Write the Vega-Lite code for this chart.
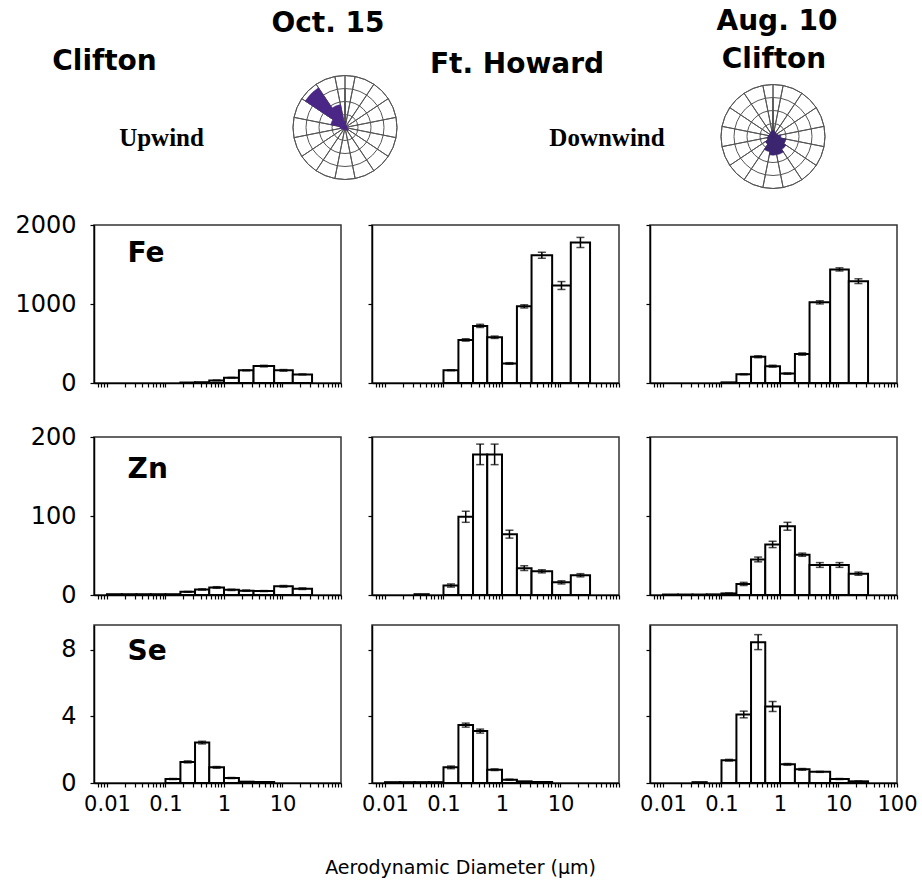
{
  "$schema": "https://vega.github.io/schema/vega-lite/v6.json",
  "padding": {"left": 3, "top": 7, "right": 5, "bottom": 6},
  "spacing": 21,
  "title": {"text": "Aerodynamic Diameter (µm)", "orient": "bottom", "anchor": "middle", "offset": 44, "font": "DejaVu Sans", "fontSize": 19, "fontWeight": "normal", "color": "black"},
  "datasets": {
    "stages": [
      {"stage": 1, "lo": 0.01, "hi": 0.018},
      {"stage": 2, "lo": 0.018, "hi": 0.032},
      {"stage": 3, "lo": 0.032, "hi": 0.056},
      {"stage": 4, "lo": 0.056, "hi": 0.1},
      {"stage": 5, "lo": 0.1, "hi": 0.18},
      {"stage": 6, "lo": 0.18, "hi": 0.32},
      {"stage": 7, "lo": 0.32, "hi": 0.56},
      {"stage": 8, "lo": 0.56, "hi": 1.0},
      {"stage": 9, "lo": 1.0, "hi": 1.8},
      {"stage": 10, "lo": 1.8, "hi": 3.2},
      {"stage": 11, "lo": 3.2, "hi": 7.2},
      {"stage": 12, "lo": 7.2, "hi": 15},
      {"stage": 13, "lo": 15, "hi": 32}
    ],
    "conc": [
      {"site": "Clifton-Oct15", "el": "Fe", "stage": 6, "v": 6, "e": 0},
      {"site": "Clifton-Oct15", "el": "Fe", "stage": 7, "v": 10, "e": 0},
      {"site": "Clifton-Oct15", "el": "Fe", "stage": 8, "v": 33, "e": 3},
      {"site": "Clifton-Oct15", "el": "Fe", "stage": 9, "v": 67, "e": 4},
      {"site": "Clifton-Oct15", "el": "Fe", "stage": 10, "v": 160, "e": 6},
      {"site": "Clifton-Oct15", "el": "Fe", "stage": 11, "v": 214, "e": 10},
      {"site": "Clifton-Oct15", "el": "Fe", "stage": 12, "v": 160, "e": 10},
      {"site": "Clifton-Oct15", "el": "Fe", "stage": 13, "v": 109, "e": 6},
      {"site": "FtHoward-Oct15", "el": "Fe", "stage": 5, "v": 162, "e": 6},
      {"site": "FtHoward-Oct15", "el": "Fe", "stage": 6, "v": 545, "e": 15},
      {"site": "FtHoward-Oct15", "el": "Fe", "stage": 7, "v": 723, "e": 20},
      {"site": "FtHoward-Oct15", "el": "Fe", "stage": 8, "v": 579, "e": 15},
      {"site": "FtHoward-Oct15", "el": "Fe", "stage": 9, "v": 247, "e": 10},
      {"site": "FtHoward-Oct15", "el": "Fe", "stage": 10, "v": 970, "e": 20},
      {"site": "FtHoward-Oct15", "el": "Fe", "stage": 11, "v": 1617, "e": 38},
      {"site": "FtHoward-Oct15", "el": "Fe", "stage": 12, "v": 1234, "e": 50},
      {"site": "FtHoward-Oct15", "el": "Fe", "stage": 13, "v": 1779, "e": 64},
      {"site": "Clifton-Aug10", "el": "Fe", "stage": 5, "v": 8, "e": 0},
      {"site": "Clifton-Aug10", "el": "Fe", "stage": 6, "v": 110, "e": 6},
      {"site": "Clifton-Aug10", "el": "Fe", "stage": 7, "v": 332, "e": 12},
      {"site": "Clifton-Aug10", "el": "Fe", "stage": 8, "v": 213, "e": 12},
      {"site": "Clifton-Aug10", "el": "Fe", "stage": 9, "v": 119, "e": 8},
      {"site": "Clifton-Aug10", "el": "Fe", "stage": 10, "v": 366, "e": 15},
      {"site": "Clifton-Aug10", "el": "Fe", "stage": 11, "v": 1021, "e": 20},
      {"site": "Clifton-Aug10", "el": "Fe", "stage": 12, "v": 1438, "e": 20},
      {"site": "Clifton-Aug10", "el": "Fe", "stage": 13, "v": 1289, "e": 30},
      {"site": "Clifton-Oct15", "el": "Zn", "stage": 1, "v": 1, "e": 0},
      {"site": "Clifton-Oct15", "el": "Zn", "stage": 2, "v": 1, "e": 0},
      {"site": "Clifton-Oct15", "el": "Zn", "stage": 3, "v": 1, "e": 0},
      {"site": "Clifton-Oct15", "el": "Zn", "stage": 4, "v": 1, "e": 0},
      {"site": "Clifton-Oct15", "el": "Zn", "stage": 5, "v": 1, "e": 0},
      {"site": "Clifton-Oct15", "el": "Zn", "stage": 6, "v": 4, "e": 0.5},
      {"site": "Clifton-Oct15", "el": "Zn", "stage": 7, "v": 7, "e": 0.8},
      {"site": "Clifton-Oct15", "el": "Zn", "stage": 8, "v": 9.5, "e": 1},
      {"site": "Clifton-Oct15", "el": "Zn", "stage": 9, "v": 6.5, "e": 0.8},
      {"site": "Clifton-Oct15", "el": "Zn", "stage": 10, "v": 5.5, "e": 0.8},
      {"site": "Clifton-Oct15", "el": "Zn", "stage": 11, "v": 5, "e": 0.6},
      {"site": "Clifton-Oct15", "el": "Zn", "stage": 12, "v": 11, "e": 1},
      {"site": "Clifton-Oct15", "el": "Zn", "stage": 13, "v": 8, "e": 1},
      {"site": "FtHoward-Oct15", "el": "Zn", "stage": 3, "v": 1, "e": 0},
      {"site": "FtHoward-Oct15", "el": "Zn", "stage": 5, "v": 12, "e": 2},
      {"site": "FtHoward-Oct15", "el": "Zn", "stage": 6, "v": 99, "e": 7},
      {"site": "FtHoward-Oct15", "el": "Zn", "stage": 7, "v": 178, "e": 13},
      {"site": "FtHoward-Oct15", "el": "Zn", "stage": 8, "v": 178, "e": 13},
      {"site": "FtHoward-Oct15", "el": "Zn", "stage": 9, "v": 77, "e": 5},
      {"site": "FtHoward-Oct15", "el": "Zn", "stage": 10, "v": 34, "e": 3},
      {"site": "FtHoward-Oct15", "el": "Zn", "stage": 11, "v": 30, "e": 2},
      {"site": "FtHoward-Oct15", "el": "Zn", "stage": 12, "v": 16, "e": 2},
      {"site": "FtHoward-Oct15", "el": "Zn", "stage": 13, "v": 25, "e": 2},
      {"site": "Clifton-Aug10", "el": "Zn", "stage": 1, "v": 0.6, "e": 0},
      {"site": "Clifton-Aug10", "el": "Zn", "stage": 2, "v": 0.6, "e": 0},
      {"site": "Clifton-Aug10", "el": "Zn", "stage": 3, "v": 0.6, "e": 0},
      {"site": "Clifton-Aug10", "el": "Zn", "stage": 4, "v": 0.8, "e": 0},
      {"site": "Clifton-Aug10", "el": "Zn", "stage": 5, "v": 2, "e": 0.5},
      {"site": "Clifton-Aug10", "el": "Zn", "stage": 6, "v": 14, "e": 2},
      {"site": "Clifton-Aug10", "el": "Zn", "stage": 7, "v": 45, "e": 3},
      {"site": "Clifton-Aug10", "el": "Zn", "stage": 8, "v": 64, "e": 4},
      {"site": "Clifton-Aug10", "el": "Zn", "stage": 9, "v": 87, "e": 5},
      {"site": "Clifton-Aug10", "el": "Zn", "stage": 10, "v": 51, "e": 2},
      {"site": "Clifton-Aug10", "el": "Zn", "stage": 11, "v": 38, "e": 3},
      {"site": "Clifton-Aug10", "el": "Zn", "stage": 12, "v": 38, "e": 3},
      {"site": "Clifton-Aug10", "el": "Zn", "stage": 13, "v": 27, "e": 2},
      {"site": "Clifton-Oct15", "el": "Se", "stage": 5, "v": 0.24, "e": 0.03},
      {"site": "Clifton-Oct15", "el": "Se", "stage": 6, "v": 1.27, "e": 0.06},
      {"site": "Clifton-Oct15", "el": "Se", "stage": 7, "v": 2.43, "e": 0.08},
      {"site": "Clifton-Oct15", "el": "Se", "stage": 8, "v": 0.94, "e": 0.05},
      {"site": "Clifton-Oct15", "el": "Se", "stage": 9, "v": 0.3, "e": 0.03},
      {"site": "Clifton-Oct15", "el": "Se", "stage": 10, "v": 0.08, "e": 0},
      {"site": "Clifton-Oct15", "el": "Se", "stage": 11, "v": 0.06, "e": 0},
      {"site": "FtHoward-Oct15", "el": "Se", "stage": 1, "v": 0.05, "e": 0},
      {"site": "FtHoward-Oct15", "el": "Se", "stage": 2, "v": 0.05, "e": 0},
      {"site": "FtHoward-Oct15", "el": "Se", "stage": 3, "v": 0.05, "e": 0},
      {"site": "FtHoward-Oct15", "el": "Se", "stage": 4, "v": 0.05, "e": 0},
      {"site": "FtHoward-Oct15", "el": "Se", "stage": 5, "v": 0.94, "e": 0.08},
      {"site": "FtHoward-Oct15", "el": "Se", "stage": 6, "v": 3.48, "e": 0.12},
      {"site": "FtHoward-Oct15", "el": "Se", "stage": 7, "v": 3.12, "e": 0.12},
      {"site": "FtHoward-Oct15", "el": "Se", "stage": 8, "v": 0.8, "e": 0.05},
      {"site": "FtHoward-Oct15", "el": "Se", "stage": 9, "v": 0.2, "e": 0.03},
      {"site": "FtHoward-Oct15", "el": "Se", "stage": 10, "v": 0.1, "e": 0},
      {"site": "FtHoward-Oct15", "el": "Se", "stage": 11, "v": 0.06, "e": 0},
      {"site": "Clifton-Aug10", "el": "Se", "stage": 3, "v": 0.05, "e": 0},
      {"site": "Clifton-Aug10", "el": "Se", "stage": 5, "v": 1.37, "e": 0.05},
      {"site": "Clifton-Aug10", "el": "Se", "stage": 6, "v": 4.12, "e": 0.2},
      {"site": "Clifton-Aug10", "el": "Se", "stage": 7, "v": 8.47, "e": 0.45},
      {"site": "Clifton-Aug10", "el": "Se", "stage": 8, "v": 4.6, "e": 0.3},
      {"site": "Clifton-Aug10", "el": "Se", "stage": 9, "v": 1.12, "e": 0.05},
      {"site": "Clifton-Aug10", "el": "Se", "stage": 10, "v": 0.82, "e": 0.05},
      {"site": "Clifton-Aug10", "el": "Se", "stage": 11, "v": 0.67, "e": 0.03},
      {"site": "Clifton-Aug10", "el": "Se", "stage": 12, "v": 0.24, "e": 0.03},
      {"site": "Clifton-Aug10", "el": "Se", "stage": 13, "v": 0.1, "e": 0.02}
    ],
    "headings": [
      {"slot": "site1", "text": "Clifton"},
      {"slot": "wind1", "text": "Upwind"},
      {"slot": "date1", "text": "Oct. 15"},
      {"slot": "site2", "text": "Ft. Howard"},
      {"slot": "wind2", "text": "Downwind"},
      {"slot": "date3", "text": "Aug. 10"},
      {"slot": "site3", "text": "Clifton"}
    ],
    "rings": [{"ring": 0.25}, {"ring": 0.5}, {"ring": 0.75}, {"ring": 1.0}],
    "winds": [
      {"day": "Oct. 15", "dir": 0, "r": 0.12},
      {"day": "Oct. 15", "dir": 22.5, "r": 0.05},
      {"day": "Oct. 15", "dir": 45, "r": 0.04},
      {"day": "Oct. 15", "dir": 67.5, "r": 0.04},
      {"day": "Oct. 15", "dir": 90, "r": 0.04},
      {"day": "Oct. 15", "dir": 112.5, "r": 0.05},
      {"day": "Oct. 15", "dir": 135, "r": 0.08},
      {"day": "Oct. 15", "dir": 157.5, "r": 0.05},
      {"day": "Oct. 15", "dir": 180, "r": 0.04},
      {"day": "Oct. 15", "dir": 202.5, "r": 0.04},
      {"day": "Oct. 15", "dir": 225, "r": 0.05},
      {"day": "Oct. 15", "dir": 247.5, "r": 0.06},
      {"day": "Oct. 15", "dir": 270, "r": 0.1},
      {"day": "Oct. 15", "dir": 292.5, "r": 0.28},
      {"day": "Oct. 15", "dir": 315, "r": 0.92},
      {"day": "Oct. 15", "dir": 337.5, "r": 0.45},
      {"day": "Aug. 10", "dir": 0, "r": 0.12},
      {"day": "Aug. 10", "dir": 22.5, "r": 0.1},
      {"day": "Aug. 10", "dir": 45, "r": 0.08},
      {"day": "Aug. 10", "dir": 67.5, "r": 0.1},
      {"day": "Aug. 10", "dir": 90, "r": 0.15},
      {"day": "Aug. 10", "dir": 112.5, "r": 0.25},
      {"day": "Aug. 10", "dir": 135, "r": 0.3},
      {"day": "Aug. 10", "dir": 157.5, "r": 0.36},
      {"day": "Aug. 10", "dir": 180, "r": 0.36},
      {"day": "Aug. 10", "dir": 202.5, "r": 0.3},
      {"day": "Aug. 10", "dir": 225, "r": 0.18},
      {"day": "Aug. 10", "dir": 247.5, "r": 0.12},
      {"day": "Aug. 10", "dir": 270, "r": 0.1},
      {"day": "Aug. 10", "dir": 292.5, "r": 0.08},
      {"day": "Aug. 10", "dir": 315, "r": 0.08},
      {"day": "Aug. 10", "dir": 337.5, "r": 0.1}
    ]
  },
  "vconcat": [
    {
      "hconcat": [
        {
          "width": 177, "height": 71, "view": {"stroke": null},
          "data": {"name": "headings"},
          "layer": [
            {"transform": [{"filter": "datum.slot === 'site1'"}], "mark": {"type": "text", "font": "DejaVu Sans", "fontSize": 28, "fontWeight": "bold", "dx": -78, "dy": -75}, "encoding": {"text": {"field": "text"}}},
            {"transform": [{"filter": "datum.slot === 'wind1'"}], "mark": {"type": "text", "font": "Liberation Serif", "fontSize": 25, "fontWeight": "bold", "dx": -21, "dy": 1}, "encoding": {"text": {"field": "text"}}}
          ]
        },
        {
          "width": 148, "height": 53, "view": {"stroke": null},
          "layer": [
            {"data": {"name": "winds"}, "transform": [{"filter": "datum.day === 'Oct. 15'"}, {"calculate": "datum.dir - 11.25", "as": "a0"}, {"calculate": "datum.dir + 11.25", "as": "a1"}],
             "mark": {"type": "arc", "radius": 52, "fill": "transparent", "stroke": "#555", "strokeWidth": 1},
             "encoding": {"theta": {"field": "a0", "type": "quantitative", "stack": null, "scale": {"type": "linear", "domain": [0, 360], "range": [0, 6.283185]}}, "theta2": {"field": "a1"}}},
            {"data": {"name": "rings"}, "mark": {"type": "arc", "theta": 0, "theta2": 6.283185, "fill": "transparent", "stroke": "#555", "strokeWidth": 1},
             "encoding": {"radius": {"field": "ring", "type": "quantitative", "stack": null, "scale": {"type": "linear", "domain": [0, 1], "range": [0, 52]}}}},
            {"data": {"name": "winds"}, "transform": [{"filter": "datum.day === 'Oct. 15'"}, {"calculate": "datum.dir - 11.25", "as": "a0"}, {"calculate": "datum.dir + 11.25", "as": "a1"}],
             "mark": {"type": "arc", "fill": "#4a2787", "stroke": "#4a2787", "strokeWidth": 0.5},
             "encoding": {"theta": {"field": "a0", "type": "quantitative", "stack": null, "scale": {"type": "linear", "domain": [0, 360], "range": [0, 6.283185]}}, "theta2": {"field": "a1"}, "radius": {"field": "r", "type": "quantitative", "stack": null, "scale": {"type": "linear", "domain": [0, 1], "range": [0, 52]}}}},
            {"data": {"name": "headings"}, "transform": [{"filter": "datum.slot === 'date1'"}], "mark": {"type": "text", "font": "DejaVu Sans", "fontSize": 28, "fontWeight": "bold", "dx": -17, "dy": -104}, "encoding": {"text": {"field": "text"}}}
          ]
        },
        {
          "width": 280, "height": 71, "view": {"stroke": null},
          "data": {"name": "headings"},
          "layer": [
            {"transform": [{"filter": "datum.slot === 'site2'"}], "mark": {"type": "text", "font": "DejaVu Sans", "fontSize": 28, "fontWeight": "bold", "dx": -42, "dy": -72}, "encoding": {"text": {"field": "text"}}},
            {"transform": [{"filter": "datum.slot === 'wind2'"}], "mark": {"type": "text", "font": "Liberation Serif", "fontSize": 25, "fontWeight": "bold", "dx": 48, "dy": 1}, "encoding": {"text": {"field": "text"}}}
          ]
        },
        {
          "width": 148, "height": 71, "view": {"stroke": null},
          "layer": [
            {"data": {"name": "winds"}, "transform": [{"filter": "datum.day === 'Aug. 10'"}, {"calculate": "datum.dir - 11.25", "as": "a0"}, {"calculate": "datum.dir + 11.25", "as": "a1"}],
             "mark": {"type": "arc", "radius": 52, "fill": "transparent", "stroke": "#555", "strokeWidth": 1},
             "encoding": {"theta": {"field": "a0", "type": "quantitative", "stack": null, "scale": {"type": "linear", "domain": [0, 360], "range": [0, 6.283185]}}, "theta2": {"field": "a1"}}},
            {"data": {"name": "rings"}, "mark": {"type": "arc", "theta": 0, "theta2": 6.283185, "fill": "transparent", "stroke": "#555", "strokeWidth": 1},
             "encoding": {"radius": {"field": "ring", "type": "quantitative", "stack": null, "scale": {"type": "linear", "domain": [0, 1], "range": [0, 52]}}}},
            {"data": {"name": "winds"}, "transform": [{"filter": "datum.day === 'Aug. 10'"}, {"calculate": "datum.dir - 11.25", "as": "a0"}, {"calculate": "datum.dir + 11.25", "as": "a1"}],
             "mark": {"type": "arc", "fill": "#3b2470", "stroke": "#3b2470", "strokeWidth": 0.5},
             "encoding": {"theta": {"field": "a0", "type": "quantitative", "stack": null, "scale": {"type": "linear", "domain": [0, 360], "range": [0, 6.283185]}}, "theta2": {"field": "a1"}, "radius": {"field": "r", "type": "quantitative", "stack": null, "scale": {"type": "linear", "domain": [0, 1], "range": [0, 52]}}}},
            {"data": {"name": "headings"}, "transform": [{"filter": "datum.slot === 'date3'"}], "mark": {"type": "text", "font": "DejaVu Sans", "fontSize": 28, "fontWeight": "bold", "dx": 4, "dy": -115}, "encoding": {"text": {"field": "text"}}},
            {"data": {"name": "headings"}, "transform": [{"filter": "datum.slot === 'site3'"}], "mark": {"type": "text", "font": "DejaVu Sans", "fontSize": 28, "fontWeight": "bold", "dx": 1, "dy": -77}, "encoding": {"text": {"field": "text"}}}
          ]
        }
      ],
      "spacing": 0,
      "bounds": "flush"
    },
    {
      "vconcat": [
        {
          "hconcat": [
            {
              "width": 247, "height": 158,
              "data": {"name": "conc"},
              "transform": [
                {"filter": "datum.el === 'Fe' && datum.site === 'Clifton-Oct15'"},
                {"lookup": "stage", "from": {"data": {"name": "stages"}, "key": "stage", "fields": ["lo", "hi"]}},
                {"calculate": "sqrt(datum.lo * datum.hi)", "as": "mid"},
                {"calculate": "datum.v - datum.e", "as": "vlo"},
                {"calculate": "datum.v + datum.e", "as": "vhi"}
              ],
              "layer": [
                {"mark": {"type": "bar", "fill": "white", "stroke": "black", "strokeWidth": 2},
                 "encoding": {
                   "x": {"field": "lo", "type": "quantitative", "scale": {"type": "log", "domain": [0.006, 100], "nice": false}, "axis": {"title": null, "labels": false, "values": [0.007,0.008,0.009,0.01,0.02,0.03,0.04,0.05,0.06,0.07,0.08,0.09,0.1,0.2,0.3,0.4,0.5,0.6,0.7,0.8,0.9,1,2,3,4,5,6,7,8,9,10,20,30,40,50,60,70,80,90,100]}},
                   "x2": {"field": "hi"},
                   "y": {"field": "v", "type": "quantitative", "scale": {"domain": [0, 2000], "nice": false}, "axis": {"title": null, "format": "d", "values": [0, 1000, 2000], "minExtent": 90, "maxExtent": 90}},
                   "y2": {"datum": 0}
                 }},
                {"transform": [{"filter": "datum.e > 0"}],
                 "mark": {"type": "errorbar", "ticks": true, "size": 8, "thickness": 1.5, "color": "black"},
                 "encoding": {"x": {"field": "mid", "type": "quantitative", "title": null, "scale": {"type": "log", "domain": [0.006, 100], "nice": false}}, "y": {"field": "vlo", "type": "quantitative", "title": null}, "y2": {"field": "vhi"}}},
                {"data": {"values": [{"el": "Fe"}]}, "mark": {"type": "text", "align": "left", "font": "DejaVu Sans", "fontSize": 28, "fontWeight": "bold"},
                 "encoding": {"text": {"field": "el"}, "x": {"datum": 0.0225, "type": "quantitative"}, "y": {"datum": 1633, "type": "quantitative"}}}
              ]
            },
            {
              "width": 247, "height": 158,
              "data": {"name": "conc"},
              "transform": [
                {"filter": "datum.el === 'Fe' && datum.site === 'FtHoward-Oct15'"},
                {"lookup": "stage", "from": {"data": {"name": "stages"}, "key": "stage", "fields": ["lo", "hi"]}},
                {"calculate": "sqrt(datum.lo * datum.hi)", "as": "mid"},
                {"calculate": "datum.v - datum.e", "as": "vlo"},
                {"calculate": "datum.v + datum.e", "as": "vhi"}
              ],
              "layer": [
                {"mark": {"type": "bar", "fill": "white", "stroke": "black", "strokeWidth": 2},
                 "encoding": {
                   "x": {"field": "lo", "type": "quantitative", "scale": {"type": "log", "domain": [0.006, 100], "nice": false}, "axis": {"title": null, "labels": false, "values": [0.007,0.008,0.009,0.01,0.02,0.03,0.04,0.05,0.06,0.07,0.08,0.09,0.1,0.2,0.3,0.4,0.5,0.6,0.7,0.8,0.9,1,2,3,4,5,6,7,8,9,10,20,30,40,50,60,70,80,90,100]}},
                   "x2": {"field": "hi"},
                   "y": {"field": "v", "type": "quantitative", "scale": {"domain": [0, 2000], "nice": false}, "axis": {"title": null, "labels": false, "values": [0, 1000, 2000]}},
                   "y2": {"datum": 0}
                 }},
                {"transform": [{"filter": "datum.e > 0"}],
                 "mark": {"type": "errorbar", "ticks": true, "size": 8, "thickness": 1.5, "color": "black"},
                 "encoding": {"x": {"field": "mid", "type": "quantitative", "title": null, "scale": {"type": "log", "domain": [0.006, 100], "nice": false}}, "y": {"field": "vlo", "type": "quantitative", "title": null}, "y2": {"field": "vhi"}}}
              ]
            },
            {
              "width": 247, "height": 158,
              "data": {"name": "conc"},
              "transform": [
                {"filter": "datum.el === 'Fe' && datum.site === 'Clifton-Aug10'"},
                {"lookup": "stage", "from": {"data": {"name": "stages"}, "key": "stage", "fields": ["lo", "hi"]}},
                {"calculate": "sqrt(datum.lo * datum.hi)", "as": "mid"},
                {"calculate": "datum.v - datum.e", "as": "vlo"},
                {"calculate": "datum.v + datum.e", "as": "vhi"}
              ],
              "layer": [
                {"mark": {"type": "bar", "fill": "white", "stroke": "black", "strokeWidth": 2},
                 "encoding": {
                   "x": {"field": "lo", "type": "quantitative", "scale": {"type": "log", "domain": [0.006, 100], "nice": false}, "axis": {"title": null, "labels": false, "values": [0.007,0.008,0.009,0.01,0.02,0.03,0.04,0.05,0.06,0.07,0.08,0.09,0.1,0.2,0.3,0.4,0.5,0.6,0.7,0.8,0.9,1,2,3,4,5,6,7,8,9,10,20,30,40,50,60,70,80,90,100]}},
                   "x2": {"field": "hi"},
                   "y": {"field": "v", "type": "quantitative", "scale": {"domain": [0, 2000], "nice": false}, "axis": {"title": null, "labels": false, "values": [0, 1000, 2000]}},
                   "y2": {"datum": 0}
                 }},
                {"transform": [{"filter": "datum.e > 0"}],
                 "mark": {"type": "errorbar", "ticks": true, "size": 8, "thickness": 1.5, "color": "black"},
                 "encoding": {"x": {"field": "mid", "type": "quantitative", "title": null, "scale": {"type": "log", "domain": [0.006, 100], "nice": false}}, "y": {"field": "vlo", "type": "quantitative", "title": null}, "y2": {"field": "vhi"}}}
              ]
            }
          ],
          "spacing": 31,
          "bounds": "flush"
        },
        {
          "vconcat": [
            {
              "hconcat": [
                {
                  "width": 247, "height": 158,
                  "data": {"name": "conc"},
                  "transform": [
                    {"filter": "datum.el === 'Zn' && datum.site === 'Clifton-Oct15'"},
                    {"lookup": "stage", "from": {"data": {"name": "stages"}, "key": "stage", "fields": ["lo", "hi"]}},
                    {"calculate": "sqrt(datum.lo * datum.hi)", "as": "mid"},
                    {"calculate": "datum.v - datum.e", "as": "vlo"},
                    {"calculate": "datum.v + datum.e", "as": "vhi"}
                  ],
                  "layer": [
                    {"mark": {"type": "bar", "fill": "white", "stroke": "black", "strokeWidth": 2},
                     "encoding": {
                       "x": {"field": "lo", "type": "quantitative", "scale": {"type": "log", "domain": [0.006, 100], "nice": false}, "axis": {"title": null, "labels": false, "values": [0.007,0.008,0.009,0.01,0.02,0.03,0.04,0.05,0.06,0.07,0.08,0.09,0.1,0.2,0.3,0.4,0.5,0.6,0.7,0.8,0.9,1,2,3,4,5,6,7,8,9,10,20,30,40,50,60,70,80,90,100]}},
                       "x2": {"field": "hi"},
                       "y": {"field": "v", "type": "quantitative", "scale": {"domain": [0, 200], "nice": false}, "axis": {"title": null, "format": "d", "values": [0, 100, 200], "minExtent": 90, "maxExtent": 90}},
                       "y2": {"datum": 0}
                     }},
                    {"transform": [{"filter": "datum.e > 0"}],
                     "mark": {"type": "errorbar", "ticks": true, "size": 8, "thickness": 1.5, "color": "black"},
                     "encoding": {"x": {"field": "mid", "type": "quantitative", "title": null, "scale": {"type": "log", "domain": [0.006, 100], "nice": false}}, "y": {"field": "vlo", "type": "quantitative", "title": null}, "y2": {"field": "vhi"}}},
                    {"data": {"values": [{"el": "Zn"}]}, "mark": {"type": "text", "align": "left", "font": "DejaVu Sans", "fontSize": 28, "fontWeight": "bold"},
                     "encoding": {"text": {"field": "el"}, "x": {"datum": 0.0225, "type": "quantitative"}, "y": {"datum": 158, "type": "quantitative"}}}
                  ]
                },
                {
                  "width": 247, "height": 158,
                  "data": {"name": "conc"},
                  "transform": [
                    {"filter": "datum.el === 'Zn' && datum.site === 'FtHoward-Oct15'"},
                    {"lookup": "stage", "from": {"data": {"name": "stages"}, "key": "stage", "fields": ["lo", "hi"]}},
                    {"calculate": "sqrt(datum.lo * datum.hi)", "as": "mid"},
                    {"calculate": "datum.v - datum.e", "as": "vlo"},
                    {"calculate": "datum.v + datum.e", "as": "vhi"}
                  ],
                  "layer": [
                    {"mark": {"type": "bar", "fill": "white", "stroke": "black", "strokeWidth": 2},
                     "encoding": {
                       "x": {"field": "lo", "type": "quantitative", "scale": {"type": "log", "domain": [0.006, 100], "nice": false}, "axis": {"title": null, "labels": false, "values": [0.007,0.008,0.009,0.01,0.02,0.03,0.04,0.05,0.06,0.07,0.08,0.09,0.1,0.2,0.3,0.4,0.5,0.6,0.7,0.8,0.9,1,2,3,4,5,6,7,8,9,10,20,30,40,50,60,70,80,90,100]}},
                       "x2": {"field": "hi"},
                       "y": {"field": "v", "type": "quantitative", "scale": {"domain": [0, 200], "nice": false}, "axis": {"title": null, "labels": false, "values": [0, 100, 200]}},
                       "y2": {"datum": 0}
                     }},
                    {"transform": [{"filter": "datum.e > 0"}],
                     "mark": {"type": "errorbar", "ticks": true, "size": 8, "thickness": 1.5, "color": "black"},
                     "encoding": {"x": {"field": "mid", "type": "quantitative", "title": null, "scale": {"type": "log", "domain": [0.006, 100], "nice": false}}, "y": {"field": "vlo", "type": "quantitative", "title": null}, "y2": {"field": "vhi"}}}
                  ]
                },
                {
                  "width": 247, "height": 158,
                  "data": {"name": "conc"},
                  "transform": [
                    {"filter": "datum.el === 'Zn' && datum.site === 'Clifton-Aug10'"},
                    {"lookup": "stage", "from": {"data": {"name": "stages"}, "key": "stage", "fields": ["lo", "hi"]}},
                    {"calculate": "sqrt(datum.lo * datum.hi)", "as": "mid"},
                    {"calculate": "datum.v - datum.e", "as": "vlo"},
                    {"calculate": "datum.v + datum.e", "as": "vhi"}
                  ],
                  "layer": [
                    {"mark": {"type": "bar", "fill": "white", "stroke": "black", "strokeWidth": 2},
                     "encoding": {
                       "x": {"field": "lo", "type": "quantitative", "scale": {"type": "log", "domain": [0.006, 100], "nice": false}, "axis": {"title": null, "labels": false, "values": [0.007,0.008,0.009,0.01,0.02,0.03,0.04,0.05,0.06,0.07,0.08,0.09,0.1,0.2,0.3,0.4,0.5,0.6,0.7,0.8,0.9,1,2,3,4,5,6,7,8,9,10,20,30,40,50,60,70,80,90,100]}},
                       "x2": {"field": "hi"},
                       "y": {"field": "v", "type": "quantitative", "scale": {"domain": [0, 200], "nice": false}, "axis": {"title": null, "labels": false, "values": [0, 100, 200]}},
                       "y2": {"datum": 0}
                     }},
                    {"transform": [{"filter": "datum.e > 0"}],
                     "mark": {"type": "errorbar", "ticks": true, "size": 8, "thickness": 1.5, "color": "black"},
                     "encoding": {"x": {"field": "mid", "type": "quantitative", "title": null, "scale": {"type": "log", "domain": [0.006, 100], "nice": false}}, "y": {"field": "vlo", "type": "quantitative", "title": null}, "y2": {"field": "vhi"}}}
                  ]
                }
              ],
              "spacing": 31,
              "bounds": "flush"
            },
            {
              "hconcat": [
                {
                  "width": 247, "height": 158,
                  "data": {"name": "conc"},
                  "transform": [
                    {"filter": "datum.el === 'Se' && datum.site === 'Clifton-Oct15'"},
                    {"lookup": "stage", "from": {"data": {"name": "stages"}, "key": "stage", "fields": ["lo", "hi"]}},
                    {"calculate": "sqrt(datum.lo * datum.hi)", "as": "mid"},
                    {"calculate": "datum.v - datum.e", "as": "vlo"},
                    {"calculate": "datum.v + datum.e", "as": "vhi"}
                  ],
                  "layer": [
                    {"mark": {"type": "bar", "fill": "white", "stroke": "black", "strokeWidth": 2},
                     "encoding": {
                       "x": {"field": "lo", "type": "quantitative", "scale": {"type": "log", "domain": [0.006, 100], "nice": false}, "axis": {"title": null, "labelFlush": false, "labelOverlap": false, "labelExpr": "indexof([0.01, 0.1, 1, 10], datum.value) >= 0 ? '' + datum.value : ''", "values": [0.007,0.008,0.009,0.01,0.02,0.03,0.04,0.05,0.06,0.07,0.08,0.09,0.1,0.2,0.3,0.4,0.5,0.6,0.7,0.8,0.9,1,2,3,4,5,6,7,8,9,10,20,30,40,50,60,70,80,90,100]}},
                       "x2": {"field": "hi"},
                       "y": {"field": "v", "type": "quantitative", "scale": {"domain": [0, 9.5], "nice": false}, "axis": {"title": null, "format": "d", "values": [0, 4, 8], "minExtent": 90, "maxExtent": 90}},
                       "y2": {"datum": 0}
                     }},
                    {"transform": [{"filter": "datum.e > 0"}],
                     "mark": {"type": "errorbar", "ticks": true, "size": 8, "thickness": 1.5, "color": "black"},
                     "encoding": {"x": {"field": "mid", "type": "quantitative", "title": null, "scale": {"type": "log", "domain": [0.006, 100], "nice": false}}, "y": {"field": "vlo", "type": "quantitative", "title": null}, "y2": {"field": "vhi"}}},
                    {"data": {"values": [{"el": "Se"}]}, "mark": {"type": "text", "align": "left", "font": "DejaVu Sans", "fontSize": 28, "fontWeight": "bold"},
                     "encoding": {"text": {"field": "el"}, "x": {"datum": 0.0225, "type": "quantitative"}, "y": {"datum": 7.88, "type": "quantitative"}}}
                  ]
                },
                {
                  "width": 247, "height": 158,
                  "data": {"name": "conc"},
                  "transform": [
                    {"filter": "datum.el === 'Se' && datum.site === 'FtHoward-Oct15'"},
                    {"lookup": "stage", "from": {"data": {"name": "stages"}, "key": "stage", "fields": ["lo", "hi"]}},
                    {"calculate": "sqrt(datum.lo * datum.hi)", "as": "mid"},
                    {"calculate": "datum.v - datum.e", "as": "vlo"},
                    {"calculate": "datum.v + datum.e", "as": "vhi"}
                  ],
                  "layer": [
                    {"mark": {"type": "bar", "fill": "white", "stroke": "black", "strokeWidth": 2},
                     "encoding": {
                       "x": {"field": "lo", "type": "quantitative", "scale": {"type": "log", "domain": [0.006, 100], "nice": false}, "axis": {"title": null, "labelFlush": false, "labelOverlap": false, "labelExpr": "indexof([0.01, 0.1, 1, 10], datum.value) >= 0 ? '' + datum.value : ''", "values": [0.007,0.008,0.009,0.01,0.02,0.03,0.04,0.05,0.06,0.07,0.08,0.09,0.1,0.2,0.3,0.4,0.5,0.6,0.7,0.8,0.9,1,2,3,4,5,6,7,8,9,10,20,30,40,50,60,70,80,90,100]}},
                       "x2": {"field": "hi"},
                       "y": {"field": "v", "type": "quantitative", "scale": {"domain": [0, 9.5], "nice": false}, "axis": {"title": null, "labels": false, "values": [0, 2, 4, 6, 8]}},
                       "y2": {"datum": 0}
                     }},
                    {"transform": [{"filter": "datum.e > 0"}],
                     "mark": {"type": "errorbar", "ticks": true, "size": 8, "thickness": 1.5, "color": "black"},
                     "encoding": {"x": {"field": "mid", "type": "quantitative", "title": null, "scale": {"type": "log", "domain": [0.006, 100], "nice": false}}, "y": {"field": "vlo", "type": "quantitative", "title": null}, "y2": {"field": "vhi"}}}
                  ]
                },
                {
                  "width": 247, "height": 158,
                  "data": {"name": "conc"},
                  "transform": [
                    {"filter": "datum.el === 'Se' && datum.site === 'Clifton-Aug10'"},
                    {"lookup": "stage", "from": {"data": {"name": "stages"}, "key": "stage", "fields": ["lo", "hi"]}},
                    {"calculate": "sqrt(datum.lo * datum.hi)", "as": "mid"},
                    {"calculate": "datum.v - datum.e", "as": "vlo"},
                    {"calculate": "datum.v + datum.e", "as": "vhi"}
                  ],
                  "layer": [
                    {"mark": {"type": "bar", "fill": "white", "stroke": "black", "strokeWidth": 2},
                     "encoding": {
                       "x": {"field": "lo", "type": "quantitative", "scale": {"type": "log", "domain": [0.006, 100], "nice": false}, "axis": {"title": null, "labelFlush": false, "labelOverlap": false, "labelExpr": "indexof([0.01, 0.1, 1, 10, 100], datum.value) >= 0 ? '' + datum.value : ''", "values": [0.007,0.008,0.009,0.01,0.02,0.03,0.04,0.05,0.06,0.07,0.08,0.09,0.1,0.2,0.3,0.4,0.5,0.6,0.7,0.8,0.9,1,2,3,4,5,6,7,8,9,10,20,30,40,50,60,70,80,90,100]}},
                       "x2": {"field": "hi"},
                       "y": {"field": "v", "type": "quantitative", "scale": {"domain": [0, 9.5], "nice": false}, "axis": {"title": null, "labels": false, "values": [0, 2, 4, 6, 8]}},
                       "y2": {"datum": 0}
                     }},
                    {"transform": [{"filter": "datum.e > 0"}],
                     "mark": {"type": "errorbar", "ticks": true, "size": 8, "thickness": 1.5, "color": "black"},
                     "encoding": {"x": {"field": "mid", "type": "quantitative", "title": null, "scale": {"type": "log", "domain": [0.006, 100], "nice": false}}, "y": {"field": "vlo", "type": "quantitative", "title": null}, "y2": {"field": "vhi"}}}
                  ]
                }
              ],
              "spacing": 31,
              "bounds": "flush"
            }
          ],
          "spacing": 16
        }
      ],
      "spacing": 28
    }
  ],
  "config": {
    "font": "DejaVu Sans",
    "background": "white",
    "view": {"stroke": "#333", "strokeWidth": 1.5},
    "axis": {"grid": false, "domainColor": "black", "domainWidth": 1.5, "tickColor": "black", "tickWidth": 1.2, "tickSize": 4, "labelFont": "DejaVu Sans", "labelFontSize": 21, "labelColor": "black", "labelPadding": 6},
    "axisY": {"labelFontSize": 24, "labelPadding": 14}
  }
}
